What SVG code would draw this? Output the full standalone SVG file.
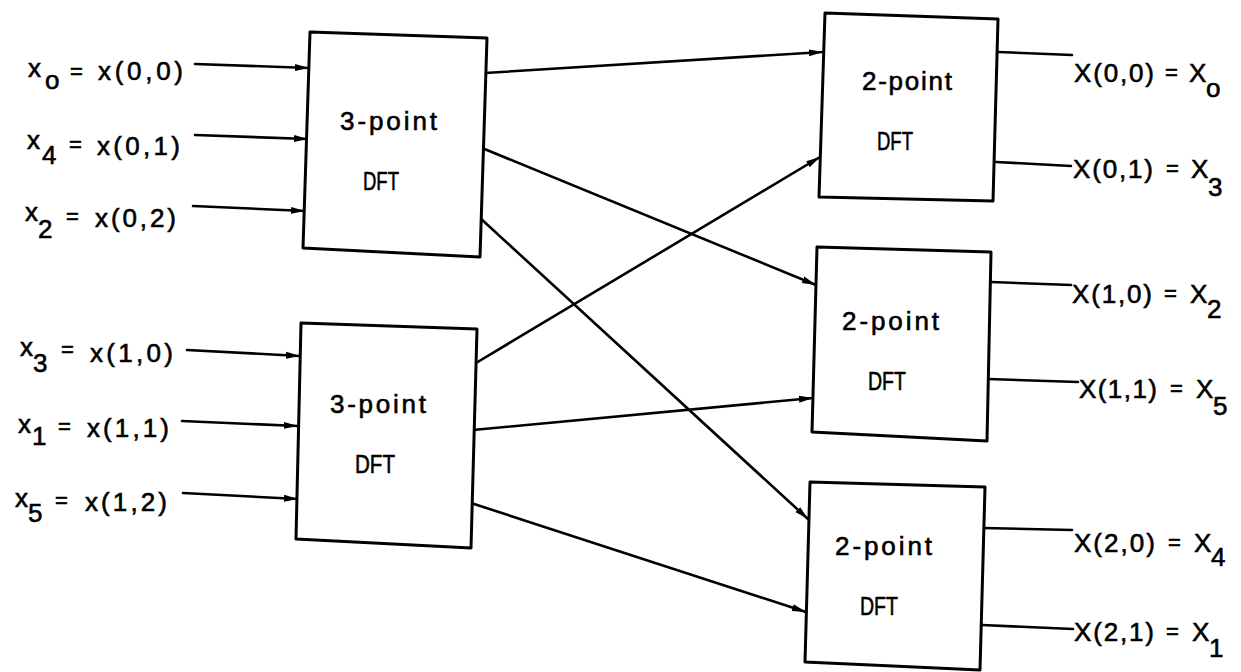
<svg xmlns="http://www.w3.org/2000/svg" width="1241" height="672" viewBox="0 0 1241 672">
<defs>
<style>
.box{fill:#fff;stroke:#000;stroke-width:3;stroke-linejoin:round}
.ln{fill:none;stroke:#000;stroke-width:2.6;stroke-linecap:round}
.arr{marker-end:url(#ah)}
text{font-family:"Liberation Sans","DejaVu Sans",sans-serif;font-size:26px;fill:#000;stroke:#000;stroke-width:0.6}
.eq{font-size:22px}
</style>
<marker id="ah" markerWidth="16" markerHeight="10" refX="14" refY="5" orient="auto" markerUnits="userSpaceOnUse">
<path d="M0,1.5 L14,5 L0,8.5 z" fill="#000"/>
</marker>
</defs>
<rect width="1241" height="672" fill="#fff"/>

<g id="connectors">
<line class="ln arr" x1="195" y1="64" x2="309" y2="68"/>
<line class="ln arr" x1="195" y1="135" x2="308" y2="139"/>
<line class="ln arr" x1="193" y1="206" x2="305" y2="211"/>
<line class="ln arr" x1="187" y1="350" x2="300" y2="356"/>
<line class="ln arr" x1="182" y1="421" x2="298" y2="426"/>
<line class="ln arr" x1="183" y1="493" x2="298" y2="499"/>
<line class="ln arr" x1="485" y1="73" x2="823" y2="52"/>
<line class="ln arr" x1="482" y1="148" x2="816" y2="285"/>
<line class="ln arr" x1="479" y1="217" x2="808" y2="519"/>
<line class="ln arr" x1="476" y1="363" x2="820" y2="157"/>
<line class="ln arr" x1="473" y1="430" x2="813" y2="398"/>
<line class="ln arr" x1="471" y1="503" x2="806" y2="612"/>
<line class="ln" x1="998" y1="52" x2="1072" y2="55"/>
<line class="ln" x1="996" y1="162" x2="1071" y2="166"/>
<line class="ln" x1="991" y1="282" x2="1071" y2="285"/>
<line class="ln" x1="988" y1="379" x2="1078" y2="382"/>
<line class="ln" x1="983" y1="528" x2="1072" y2="530"/>
<line class="ln" x1="982" y1="625" x2="1073" y2="629"/>
</g>

<g id="in0"><text x="28" y="77">x</text><text x="45" y="89">o</text><text class="eq" x="70" y="79">=</text><text x="98" y="80" textLength="85" lengthAdjust="spacing">x(0,0)</text></g>
<g id="in4"><text x="27" y="149">x</text><text x="42" y="164">4</text><text class="eq" x="69" y="152">=</text><text x="97" y="155" textLength="83" lengthAdjust="spacing">x(0,1)</text></g>
<g id="in2"><text x="25" y="221">x</text><text x="38" y="238">2</text><text class="eq" x="66" y="224">=</text><text x="95" y="227" textLength="81" lengthAdjust="spacing">x(0,2)</text></g>
<g id="in3"><text x="20" y="356">x</text><text x="33" y="372">3</text><text class="eq" x="61" y="357">=</text><text x="90" y="362" textLength="83" lengthAdjust="spacing">x(1,0)</text></g>
<g id="in1"><text x="18" y="433">x</text><text x="32" y="445">1</text><text class="eq" x="58" y="434">=</text><text x="87" y="437" textLength="82" lengthAdjust="spacing">x(1,1)</text></g>
<g id="in5"><text x="15" y="507">x</text><text x="28" y="522">5</text><text class="eq" x="55" y="508">=</text><text x="85" y="511" textLength="82" lengthAdjust="spacing">x(1,2)</text></g>

<g id="dft3a">
<polygon class="box" points="310,32 487,38 480,257 303,248"/>
<text x="340" y="130" textLength="97" lengthAdjust="spacing">3-point</text>
<text x="363" y="190" textLength="36" lengthAdjust="spacingAndGlyphs">DFT</text>
</g>
<g id="dft3b">
<polygon class="box" points="301,323 477,329 471,548 296,539"/>
<text x="330" y="413" textLength="96" lengthAdjust="spacing">3-point</text>
<text x="355" y="473" textLength="40" lengthAdjust="spacingAndGlyphs">DFT</text>
</g>
<g id="dft2a">
<polygon class="box" points="825,13 998,19 993,201 819,197"/>
<text x="862" y="90" textLength="90" lengthAdjust="spacing">2-point</text>
<text x="877" y="150" textLength="36" lengthAdjust="spacingAndGlyphs">DFT</text>
</g>
<g id="dft2b">
<polygon class="box" points="817,247 991,252 987,441 812,432"/>
<text x="842" y="330" textLength="97" lengthAdjust="spacing">2-point</text>
<text x="868" y="390" textLength="38" lengthAdjust="spacingAndGlyphs">DFT</text>
</g>
<g id="dft2c">
<polygon class="box" points="810,482 985,487 980,670 805,662"/>
<text x="835" y="555" textLength="97" lengthAdjust="spacing">2-point</text>
<text x="860" y="615" textLength="38" lengthAdjust="spacingAndGlyphs">DFT</text>
</g>

<g id="out0"><text x="1074" y="82" textLength="80" lengthAdjust="spacing">X(0,0)</text><text class="eq" x="1165" y="80">=</text><text x="1189" y="82">X</text><text x="1206" y="97">o</text></g>
<g id="out3"><text x="1073" y="178" textLength="80" lengthAdjust="spacing">X(0,1)</text><text class="eq" x="1166" y="176">=</text><text x="1191" y="178">X</text><text x="1208" y="196">3</text></g>
<g id="out2"><text x="1072" y="303" textLength="80" lengthAdjust="spacing">X(1,0)</text><text class="eq" x="1164" y="301">=</text><text x="1190" y="303">X</text><text x="1207" y="318">2</text></g>
<g id="out5"><text x="1079" y="398" textLength="78" lengthAdjust="spacing">X(1,1)</text><text class="eq" x="1170" y="396">=</text><text x="1196" y="398">X</text><text x="1213" y="415">5</text></g>
<g id="out4"><text x="1074" y="552" textLength="81" lengthAdjust="spacing">X(2,0)</text><text class="eq" x="1168" y="550">=</text><text x="1194" y="552">X</text><text x="1211" y="566">4</text></g>
<g id="out1"><text x="1074" y="641" textLength="80" lengthAdjust="spacing">X(2,1)</text><text class="eq" x="1166" y="639">=</text><text x="1192" y="641">X</text><text x="1209" y="657">1</text></g>
</svg>
